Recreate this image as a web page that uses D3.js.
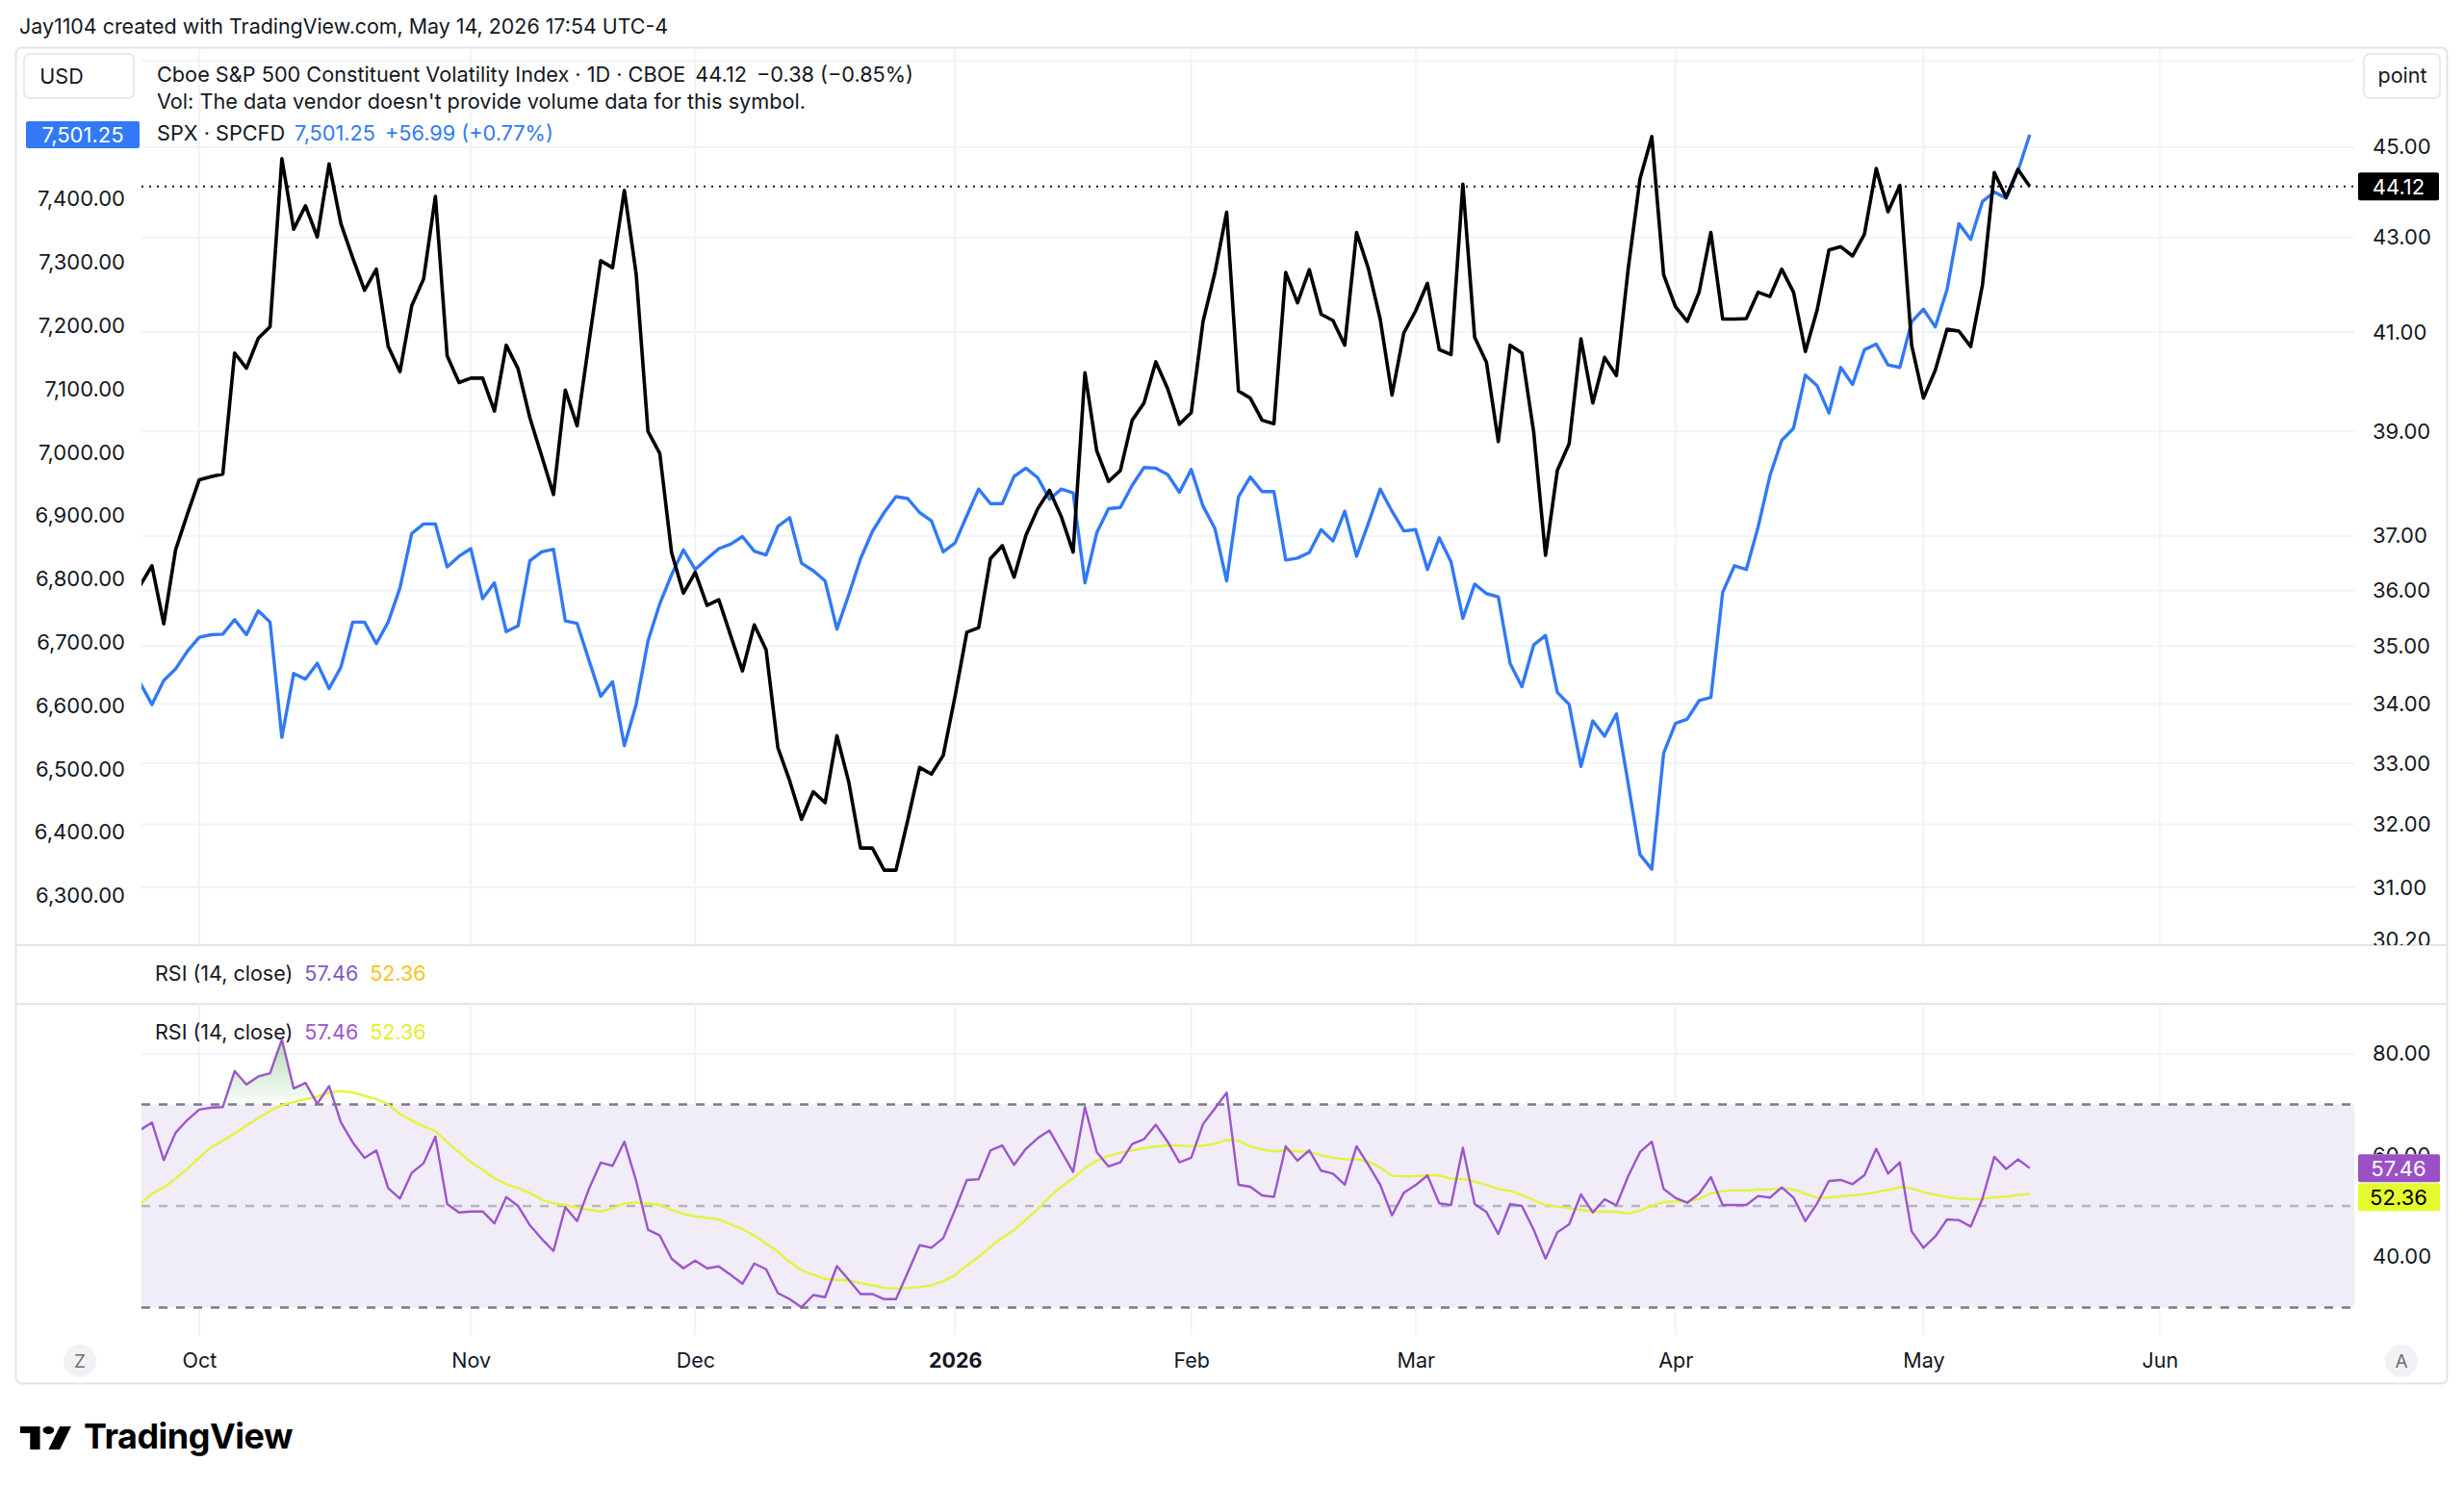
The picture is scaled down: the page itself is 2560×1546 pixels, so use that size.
<!DOCTYPE html>
<html>
<head>
<meta charset="utf-8">
<script src="https://cdn.jsdelivr.net/npm/d3@7"></script>
<style>
  body { margin: 0; background: #fff; }
  text { font-family: Inter, "Noto Sans", sans-serif; }
</style>
</head>
<body>
<script>
// trading calendar (first day shown, last day with data, market holidays)
let firstDay = "2025-09-24";
let lastDay = "2026-05-14";
let axisEnd = "2026-06-19";
let holidays = ["2025-11-27", "2025-12-25", "2026-01-01", "2026-01-19", "2026-02-16", "2026-04-03", "2026-05-25", "2026-06-19"];

// month labels on the time axis
let monthLabels = ["Oct", "Nov", "Dec", "2026", "Feb", "Mar", "Apr", "May", "Jun"];

// Cboe S&P 500 Constituent Volatility Index, daily close (right axis)
let volIndex = [
  36.09, 36.45, 35.40, 36.74, 37.41, 38.06, 38.12, 38.17, 40.57, 40.26,
  40.87, 41.11, 44.74, 43.18, 43.69, 43.01, 44.62, 43.30, 42.56, 41.87,
  42.32, 40.71, 40.19, 41.55, 42.11, 43.90, 40.51, 39.97, 40.06, 40.06,
  39.40, 40.73, 40.25, 39.27, 38.52, 37.78, 39.82, 39.11, 40.78, 42.50,
  42.35, 44.03, 42.22, 39.00, 38.57, 36.69, 35.95, 36.33, 35.73, 35.83,
  35.19, 34.57, 35.38, 34.94, 33.26, 32.71, 32.08, 32.53, 32.35, 33.46,
  32.69, 31.62, 31.62, 31.27, 31.27, 32.07, 32.93, 32.82, 33.13, 34.13,
  35.25, 35.33, 36.58, 36.82, 36.24, 37.01, 37.51, 37.86, 37.36, 36.70,
  40.17, 38.62, 38.03, 38.24, 39.22, 39.56, 40.39, 39.85, 39.14, 39.37,
  41.22, 42.24, 43.55, 39.80, 39.66, 39.22, 39.15, 42.25, 41.61, 42.31,
  41.37, 41.24, 40.73, 43.11, 42.33, 41.27, 39.72, 40.98, 41.44, 42.02,
  40.64, 40.54, 44.17, 40.89, 40.38, 38.80, 40.73, 40.57, 38.98, 36.64,
  38.24, 38.76, 40.86, 39.56, 40.48, 40.11, 42.33, 44.29, 45.24, 42.20,
  41.53, 41.22, 41.83, 43.11, 41.27, 41.27, 41.28, 41.83, 41.74, 42.32,
  41.83, 40.60, 41.46, 42.73, 42.80, 42.60, 43.07, 44.52, 43.56, 44.14,
  40.73, 39.66, 40.22, 41.06, 41.02, 40.70, 41.99, 44.43, 43.88, 44.50,
  44.12
];

// SPX daily close (left axis)
let spx = [
  6636, 6602, 6640, 6658, 6686, 6708, 6712, 6713, 6736, 6712,
  6750, 6732, 6550, 6651, 6642, 6667, 6627, 6661, 6732, 6732,
  6698, 6732, 6786, 6872, 6887, 6887, 6819, 6836, 6848, 6769,
  6794, 6717, 6726, 6829, 6843, 6847, 6734, 6730, 6672, 6615,
  6638, 6537, 6602, 6702, 6761, 6807, 6846, 6815, 6832, 6848,
  6855, 6867, 6844, 6838, 6883, 6897, 6825, 6813, 6797, 6721,
  6775, 6832, 6875, 6905, 6930, 6927, 6905, 6892, 6843, 6857,
  6900, 6942, 6919, 6919, 6962, 6975, 6960, 6926, 6942, 6936,
  6794, 6873, 6911, 6913, 6948, 6976, 6975, 6965, 6937, 6973,
  6915, 6880, 6797, 6930, 6961, 6938, 6938, 6830, 6833, 6842,
  6878, 6860, 6907, 6836, 6888, 6942, 6907, 6876, 6878, 6815,
  6865, 6827, 6738, 6792, 6777, 6772, 6667, 6630, 6696, 6711,
  6621, 6602, 6504, 6576, 6552, 6587, 6477, 6365, 6342, 6525,
  6572, 6579, 6608, 6613, 6779, 6821, 6815, 6882, 6963, 7019,
  7038, 7122, 7105, 7062, 7134, 7107, 7162, 7171, 7138, 7134,
  7206, 7226, 7198, 7257, 7361, 7336, 7396, 7411, 7401, 7444,
  7501.25
];

// RSI (14, close) and its moving average
let rsi = [
  64.94, 66.46, 59.05, 64.43, 66.96, 68.99, 69.37, 69.49, 76.58, 73.92,
  75.51, 76.14, 82.78, 73.16, 74.24, 70.13, 73.61, 66.46, 62.53, 59.49,
  60.95, 53.54, 51.46, 56.52, 58.42, 63.67, 50.38, 48.73, 48.92, 48.92,
  46.58, 51.77, 50.00, 46.20, 43.54, 41.14, 49.75, 47.03, 53.35, 58.54,
  57.91, 62.66, 54.94, 45.32, 44.18, 39.62, 37.72, 39.24, 37.72, 38.10,
  36.46, 34.68, 38.67, 37.53, 32.85, 31.65, 30.06, 32.47, 32.03, 38.16,
  35.44, 32.66, 32.66, 31.65, 31.65, 36.90, 42.28, 41.77, 43.67, 49.24,
  55.13, 55.25, 60.95, 61.90, 58.10, 61.27, 63.35, 64.87, 60.76, 56.71,
  69.49, 60.63, 57.78, 58.61, 62.22, 63.16, 66.01, 62.66, 58.61, 59.49,
  66.14, 69.18, 72.34, 54.18, 53.80, 52.09, 51.77, 61.77, 58.92, 60.95,
  56.96, 56.39, 54.18, 61.77, 58.10, 54.18, 48.16, 52.59, 54.11, 56.01,
  50.51, 50.19, 61.46, 50.38, 48.80, 44.49, 50.38, 50.00, 45.32, 39.62,
  44.81, 46.39, 52.28, 48.73, 51.33, 50.13, 55.89, 60.63, 62.66, 53.35,
  51.58, 50.63, 52.41, 55.70, 50.19, 50.19, 50.19, 51.96, 51.65, 53.67,
  51.65, 47.03, 50.51, 54.94, 55.13, 54.30, 56.08, 61.27, 56.39, 58.61,
  45.00, 41.77, 43.99, 47.34, 47.22, 45.95, 51.46, 59.68, 57.28, 59.18,
  57.46
];
let rsiMa = [
  50.38, 52.41, 53.67, 55.38, 57.34, 59.49, 61.58, 62.85, 64.30, 65.82,
  67.28, 68.73, 69.87, 70.44, 71.08, 71.52, 72.34, 72.66, 72.34, 71.71,
  71.08, 70.00, 68.10, 66.84, 65.70, 64.75, 62.53, 60.63, 58.61, 57.15,
  55.44, 54.30, 53.54, 52.59, 51.27, 50.51, 50.19, 49.68, 49.24, 48.92,
  49.56, 50.51, 50.70, 50.51, 50.19, 49.24, 48.42, 47.97, 47.66, 47.34,
  46.39, 45.44, 44.18, 42.59, 41.00, 38.95, 37.34, 36.46, 35.63, 35.44,
  35.32, 34.81, 34.37, 33.92, 33.73, 33.86, 34.05, 34.37, 35.19, 36.39,
  38.35, 39.94, 41.96, 43.73, 45.25, 47.34, 49.37, 51.77, 53.80, 55.44,
  57.47, 58.92, 59.87, 60.51, 60.95, 61.39, 61.71, 61.90, 61.90, 61.77,
  61.90, 62.22, 63.04, 62.85, 61.71, 61.14, 60.76, 60.95, 60.76, 60.63,
  60.00, 59.49, 59.18, 59.24, 58.73, 57.59, 55.95, 55.82, 55.89, 56.08,
  56.01, 55.38, 55.32, 54.75, 54.18, 53.35, 52.97, 52.22, 51.14, 50.19,
  49.87, 49.56, 49.24, 48.92, 48.86, 48.86, 48.48, 49.11, 50.00, 50.76,
  50.89, 50.95, 51.39, 52.53, 52.91, 53.10, 53.04, 53.23, 53.29, 53.48,
  53.23, 52.41, 51.58, 51.65, 51.90, 52.09, 52.34, 52.72, 53.16, 53.73,
  53.48, 52.72, 52.22, 51.77, 51.46, 51.33, 51.39, 51.71, 51.84, 52.15,
  52.36
];

// axis ticks
let leftTicks = [7400, 7300, 7200, 7100, 7000, 6900, 6800, 6700, 6600, 6500, 6400, 6300];
let rightTicks = [45, 43, 41, 39, 37, 36, 35, 34, 33, 32, 31];
let rightGridOnly = [47];
let rightBottomLabel = 30.2;
let rsiTicks = [80, 60, 40];
let rsiBands = [70, 50, 30];

// --- trading days ---
let parse = d3.timeParse("%Y-%m-%d");
let fmt = d3.timeFormat("%Y-%m-%d");
let allDays = d3.timeDay.range(parse(firstDay), d3.timeDay.offset(parse(axisEnd), 1))
  .filter(d => d.getDay() !== 0 && d.getDay() !== 6 && holidays.indexOf(fmt(d)) < 0);
let nData = allDays.findIndex(d => fmt(d) === lastDay) + 1;
let monthIdx = [];
allDays.forEach((d, i) => {
  if (i > 0 && d.getMonth() !== allDays[i - 1].getMonth()) monthIdx.push(i);
});

// --- layout ---
let W = 2560, H = 1546;
let plotL = 147, plotR = 2446;
let mainTop = 50, mainBot = 982;
let rsiTop = 1043, rsiBot = 1387;
let ink = "#131722";
let blue = "#3179f5";
let purple = "#9c55cb";
let yellow = "#e3f43a";

let svg = d3.select("body").append("svg").attr("width", W).attr("height", H);

let x = d3.scaleLinear().domain([0, monthIdx[monthIdx.length - 1]]).range([145.6, 2243.8]);
let yR = d3.scaleLog().domain([45, 31]).range([152.9, 922]);
let yL = d3.scaleLinear().domain([7400, 6300]).range([206.7, 930.7]);
let yS = d3.scaleLinear().domain([70, 30]).range([1147.5, 1358.5]);

let lastVol = volIndex[nData - 1];
let lastSpx = spx[nData - 1];
let lastRsi = rsi[nData - 1], lastMa = rsiMa[nData - 1];
let pc = yS(lastRsi);
let mc = Math.max(yS(lastMa), pc + 30);

let defs = svg.append("defs");
defs.append("clipPath").attr("id", "clipMain").append("rect")
  .attr("x", plotL).attr("y", mainTop).attr("width", plotR - plotL).attr("height", mainBot - mainTop);
defs.append("clipPath").attr("id", "clipRsi").append("rect")
  .attr("x", plotL).attr("y", rsiTop).attr("width", plotR - plotL).attr("height", rsiBot - rsiTop);
defs.append("clipPath").attr("id", "clipRightAxis").append("rect")
  .attr("x", plotR).attr("y", mainTop).attr("width", 100).attr("height", mainBot - mainTop);
// RSI scale: hidden where the last-value badges sit
let cRsiAx = defs.append("clipPath").attr("id", "clipRsiAxis");
cRsiAx.append("rect").attr("x", plotR).attr("y", rsiTop).attr("width", 100).attr("height", pc - 14.5 - rsiTop);
cRsiAx.append("rect").attr("x", plotR).attr("y", mc + 14.5).attr("width", 100).attr("height", rsiBot - mc - 14.5);
let gGreen = defs.append("linearGradient").attr("id", "gradUp")
  .attr("gradientUnits", "userSpaceOnUse").attr("x1", 0).attr("x2", 0)
  .attr("y1", yS(84)).attr("y2", yS(70));
gGreen.append("stop").attr("offset", 0).attr("stop-color", "rgb(76,175,80)").attr("stop-opacity", 0.45);
gGreen.append("stop").attr("offset", 1).attr("stop-color", "rgb(76,175,80)").attr("stop-opacity", 0.03);
let gRed = defs.append("linearGradient").attr("id", "gradDown")
  .attr("gradientUnits", "userSpaceOnUse").attr("x1", 0).attr("x2", 0)
  .attr("y1", yS(30)).attr("y2", yS(24));
gRed.append("stop").attr("offset", 0).attr("stop-color", "rgb(242,54,69)").attr("stop-opacity", 0.03);
gRed.append("stop").attr("offset", 1).attr("stop-color", "rgb(242,54,69)").attr("stop-opacity", 0.45);

// header
svg.append("text").attr("x", 20).attr("y", 35).attr("font-size", 21.4).attr("fill", ink)
  .text("Jay1104 created with TradingView.com, May 14, 2026 17:54 UTC-4");

// frame and pane separators
svg.append("rect").attr("x", 16.5).attr("y", 49.5).attr("width", 2526).attr("height", 1388)
  .attr("rx", 6).attr("fill", "none").attr("stroke", "#e0e3eb").attr("stroke-width", 2);
[mainBot, rsiTop].forEach(y => {
  svg.append("line").attr("x1", 17).attr("x2", 2542).attr("y1", y).attr("y2", y)
    .attr("stroke", "#e0e3eb").attr("stroke-width", 2);
});

// grid
let grid = svg.append("g").attr("stroke", "#f0f3fa").attr("stroke-width", 2);
monthIdx.forEach(i => {
  grid.append("line").attr("x1", x(i)).attr("x2", x(i)).attr("y1", mainTop).attr("y2", mainBot);
  grid.append("line").attr("x1", x(i)).attr("x2", x(i)).attr("y1", rsiTop).attr("y2", rsiBot);
});
rightTicks.concat(rightGridOnly).forEach(v => {
  grid.append("line").attr("x1", plotL).attr("x2", plotR).attr("y1", yR(v)).attr("y2", yR(v));
});
rsiTicks.forEach(v => {
  grid.append("line").attr("x1", plotL).attr("x2", plotR).attr("y1", yS(v)).attr("y2", yS(v));
});

// main pane lines
let main = svg.append("g").attr("clip-path", "url(#clipMain)");
let idx = d3.range(nData);
main.append("path").datum(idx)
  .attr("fill", "none").attr("stroke", blue).attr("stroke-width", 3.4).attr("stroke-linejoin", "round")
  .attr("d", d3.line().x(i => x(i)).y(i => yL(spx[i])));
main.append("path").datum(idx)
  .attr("fill", "none").attr("stroke", "#000").attr("stroke-width", 3.6).attr("stroke-linejoin", "round")
  .attr("d", d3.line().x(i => x(i)).y(i => yR(volIndex[i])));
main.append("line").attr("x1", plotL).attr("x2", plotR)
  .attr("y1", yR(lastVol)).attr("y2", yR(lastVol))
  .attr("stroke", ink).attr("stroke-width", 2).attr("stroke-dasharray", "2 6");

// left axis
let axL = svg.append("g").attr("transform", "translate(130,0)")
  .call(d3.axisLeft(yL).tickValues(leftTicks).tickFormat(d3.format(",.2f")).tickSize(0).tickPadding(0));
axL.select(".domain").remove();
axL.selectAll("text").attr("font-size", 22).attr("fill", ink).attr("font-family", "Inter");

// right axis (log)
let axR = svg.append("g").attr("clip-path", "url(#clipRightAxis)").append("g")
  .attr("transform", "translate(2465,0)")
  .call(d3.axisRight(yR).tickValues(rightTicks.concat([rightBottomLabel])).tickFormat(d3.format(".2f")).tickSize(0).tickPadding(0));
axR.select(".domain").remove();
axR.selectAll("text").attr("font-size", 22).attr("fill", ink).attr("font-family", "Inter");

// legend texts
svg.append("rect").attr("x", 25).attr("y", 56).attr("width", 114).attr("height", 46).attr("rx", 6)
  .attr("fill", "#fff").attr("stroke", "#e0e3eb").attr("stroke-width", 1.5);
svg.append("text").attr("x", 64).attr("y", 87).attr("text-anchor", "middle").attr("font-size", 21.5)
  .attr("fill", ink).text("USD");
svg.append("rect").attr("x", 2456).attr("y", 56).attr("width", 79).attr("height", 46).attr("rx", 6)
  .attr("fill", "#fff").attr("stroke", "#e0e3eb").attr("stroke-width", 1.5);
svg.append("text").attr("x", 2496).attr("y", 86).attr("text-anchor", "middle").attr("font-size", 21.5)
  .attr("fill", ink).text("point");

let t1 = svg.append("text").attr("x", 163).attr("y", 85).attr("font-size", 21.7).attr("fill", ink);
t1.append("tspan").text("Cboe S&P 500 Constituent Volatility Index · 1D · CBOE");
t1.append("tspan").attr("dx", 10).text("44.12");
t1.append("tspan").attr("dx", 10).text("−0.38 (−0.85%)");
svg.append("text").attr("x", 163).attr("y", 113).attr("font-size", 21.7).attr("fill", ink)
  .text("Vol: The data vendor doesn't provide volume data for this symbol.");
let t3 = svg.append("text").attr("x", 163).attr("y", 146).attr("font-size", 21.7).attr("fill", ink);
t3.append("tspan").text("SPX · SPCFD");
t3.append("tspan").attr("dx", 10).attr("fill", blue).text("7,501.25");
t3.append("tspan").attr("dx", 10).attr("fill", blue).text("+56.99 (+0.77%)");

// last value labels
svg.append("rect").attr("x", 27).attr("y", yL(lastSpx) - 14).attr("width", 118).attr("height", 28)
  .attr("rx", 2).attr("fill", blue);
svg.append("text").attr("x", 86).attr("y", yL(lastSpx) + 8).attr("text-anchor", "middle")
  .attr("font-size", 22).attr("fill", "#fff").text(d3.format(",.2f")(lastSpx));
svg.append("rect").attr("x", 2450).attr("y", yR(lastVol) - 14.5).attr("width", 84).attr("height", 29)
  .attr("rx", 2).attr("fill", "#000");
svg.append("text").attr("x", 2492).attr("y", yR(lastVol) + 8).attr("text-anchor", "middle")
  .attr("font-size", 22).attr("fill", "#fff").text(d3.format(".2f")(lastVol));

// RSI legends
let lg1 = svg.append("text").attr("x", 161).attr("y", 1019).attr("font-size", 21.5).attr("fill", ink);
lg1.append("tspan").text("RSI (14, close)");
lg1.append("tspan").attr("dx", 12).attr("fill", "#7e57c2").text(d3.format(".2f")(lastRsi));
lg1.append("tspan").attr("dx", 12).attr("fill", "#f5c518").text(d3.format(".2f")(lastMa));
let lg2 = svg.append("text").attr("x", 161).attr("y", 1080).attr("font-size", 21.5).attr("fill", ink);
lg2.append("tspan").text("RSI (14, close)");
lg2.append("tspan").attr("dx", 12).attr("fill", purple).text(d3.format(".2f")(lastRsi));
lg2.append("tspan").attr("dx", 12).attr("fill", "#dff02a").text(d3.format(".2f")(lastMa));

// RSI pane
let rp = svg.append("g").attr("clip-path", "url(#clipRsi)");
rp.append("rect").attr("x", plotL).attr("width", plotR - plotL)
  .attr("y", yS(70)).attr("height", yS(30) - yS(70)).attr("fill", "#f0ecf8");
rsiBands.forEach(v => {
  rp.append("line").attr("x1", plotL).attr("x2", plotR).attr("y1", yS(v)).attr("y2", yS(v))
    .attr("stroke", v === 50 ? "#b4b6bd" : "#787b86").attr("stroke-width", 2.5)
    .attr("stroke-dasharray", "9 9");
});
rp.append("path").datum(idx).attr("fill", "url(#gradUp)")
  .attr("d", d3.area().x(i => x(i)).y0(yS(70)).y1(i => yS(Math.max(rsi[i], 70))));
rp.append("path").datum(idx).attr("fill", "url(#gradDown)")
  .attr("d", d3.area().x(i => x(i)).y0(yS(30)).y1(i => yS(Math.min(rsi[i], 30))));
rp.append("path").datum(idx).attr("fill", "none").attr("stroke", yellow).attr("stroke-width", 2.4)
  .attr("d", d3.line().x(i => x(i)).y(i => yS(rsiMa[i])));
rp.append("path").datum(idx).attr("fill", "none").attr("stroke", purple).attr("stroke-width", 2.4)
  .attr("stroke-linejoin", "round")
  .attr("d", d3.line().x(i => x(i)).y(i => yS(rsi[i])));

let axS = svg.append("g").attr("clip-path", "url(#clipRsiAxis)").append("g")
  .attr("transform", "translate(2465,0)")
  .call(d3.axisRight(yS).tickValues(rsiTicks).tickFormat(d3.format(".2f")).tickSize(0).tickPadding(0));
axS.select(".domain").remove();
axS.selectAll("text").attr("font-size", 22).attr("fill", ink).attr("font-family", "Inter");

svg.append("rect").attr("x", 2450).attr("y", pc - 14.5).attr("width", 85).attr("height", 29).attr("rx", 2).attr("fill", "#9b51c6");
svg.append("text").attr("x", 2492).attr("y", pc + 8).attr("text-anchor", "middle").attr("font-size", 22)
  .attr("fill", "#fff").text(d3.format(".2f")(lastRsi));
svg.append("rect").attr("x", 2450).attr("y", mc - 14.5).attr("width", 85).attr("height", 29).attr("rx", 2).attr("fill", "#e4fb2d");
svg.append("text").attr("x", 2492).attr("y", mc + 8).attr("text-anchor", "middle").attr("font-size", 22)
  .attr("fill", "#000").text(d3.format(".2f")(lastMa));

// time axis
let axT = svg.append("g").attr("transform", "translate(0,1406)")
  .call(d3.axisBottom(x).tickValues(monthIdx).tickFormat((d, i) => monthLabels[i]).tickSize(0).tickPadding(0));
axT.select(".domain").remove();
axT.selectAll("text").attr("font-size", 21.5).attr("fill", ink).attr("font-family", "Inter")
  .attr("font-weight", (d, i) => monthLabels[i] === "2026" ? 700 : 400);

[[83, "Z"], [2495, "A"]].forEach(p => {
  svg.append("circle").attr("cx", p[0]).attr("cy", 1414).attr("r", 17).attr("fill", "#f2f2f4");
  svg.append("text").attr("x", p[0]).attr("y", 1421).attr("text-anchor", "middle")
    .attr("font-size", 19).attr("fill", "#6a6d78").text(p[1]);
});

// TradingView logo
let logo = svg.append("g").attr("transform", "translate(21,1478) scale(1.47,1.0)").attr("fill", "#000");
logo.append("path").attr("d", "M14 28H7V11H0V4h14v24z");
logo.append("circle").attr("cx", 20).attr("cy", 8).attr("r", 4);
logo.append("path").attr("d", "M28 28h-8l8-24h8l-8 24z");
svg.append("text").attr("x", 87).attr("y", 1505).attr("font-size", 36).attr("font-weight", 700)
  .attr("fill", "#000").attr("textLength", 217).attr("lengthAdjust", "spacingAndGlyphs")
  .attr("letter-spacing", -0.5).text("TradingView");
</script>
</body>
</html>
